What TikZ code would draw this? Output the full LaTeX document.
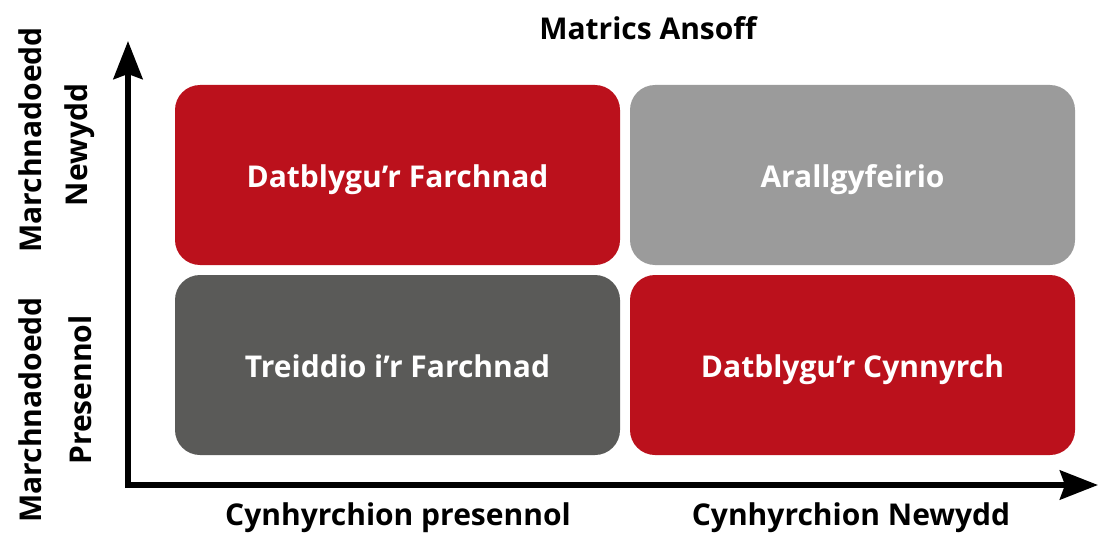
\documentclass[tikz,border=0pt]{standalone}
\usepackage{fontspec}
\setmainfont{Open Sans}
\usetikzlibrary{arrows.meta}
\definecolor{cred}{HTML}{BB111C}
\definecolor{clight}{HTML}{9B9B9B}
\definecolor{cdark}{HTML}{5A5A58}
\tikzset{
  quad/.style={rounded corners=25pt, minimum width=445pt, minimum height=180pt, inner sep=0pt, text height=24pt, text depth=0pt, text=white, font=\fontsize{30}{33}\selectfont\bfseries},
  lbl/.style={font=\fontsize{30}{33}\selectfont\bfseries, inner sep=0pt},
  axis/.style={line width=6pt, -{Stealth[length=38pt,width=29pt,inset=5pt]}}
}
\begin{document}
\begin{tikzpicture}[x=1pt,y=-1pt]
\useasboundingbox (0,0) rectangle (1098,535);
\node[quad, fill=cred] (tl) at (397.5,175) {Datblygu’r Farchnad};
\node[quad, fill=clight] (tr) at (852.5,175) {Arallgyfeirio};
\node[quad, fill=cdark] (bl) at (397.5,365) {Treiddio i’r Farchnad};
\node[quad, fill=cred] (br) at (852.5,365) {Datblygu’r Cynnyrch};
\coordinate (o) at (128,485);
\coordinate (ytip) at (128,41);
\coordinate (xtip) at (1098,485);
\draw[axis] ([yshift=-3pt]o) -- (ytip);
\draw[axis] ([xshift=-3pt]o) -- (xtip);
\node[lbl] (title) at (648,28) {Matrics Ansoff};
\node[lbl] (cx1) at (398,518) {Cynhyrchion presennol};
\node[lbl] (cx2) at (851,518) {Cynhyrchion Newydd};
\node[lbl, rotate=90] (m1) at (30,140) {Marchnadoedd};
\node[lbl, rotate=90] (m1b) at (80,145) {Newydd};
\node[lbl, rotate=90] (m2) at (30,410) {Marchnadoedd};
\node[lbl, rotate=90] (m2b) at (80,390) {Presennol};
\end{tikzpicture}
\end{document}
